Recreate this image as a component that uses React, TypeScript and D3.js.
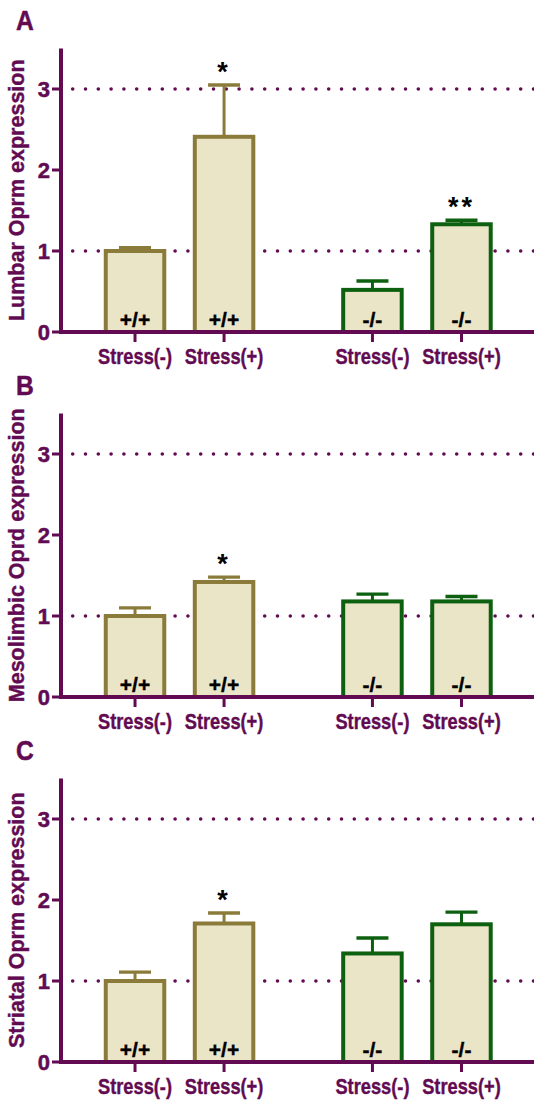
import React, { useEffect, useRef } from 'react'
import * as d3 from 'd3'

// groups / conditions
const genotypes = ['+/+', '-/-']
const conditions = ['Stress(-)', 'Stress(+)']
const panelLetters = ['A', 'B', 'C']
const yTitles = ['Lumbar Oprm expression', 'Mesolimbic Oprd expression', 'Striatal Oprm expression']
const yTicks = [0, 1, 2, 3]
const refLines = [1, 3]

// means in order: +/+ S(-), +/+ S(+), -/- S(-), -/- S(+)
const lumbarMeans = [1.0, 2.41, 0.52, 1.33]
const lumbarSem = [0.04, 0.64, 0.11, 0.05]
const lumbarStars = ['', '*', '', '**']

const mesolimbicMeans = [1.0, 1.42, 1.18, 1.18]
const mesolimbicSem = [0.1, 0.06, 0.09, 0.06]
const mesolimbicStars = ['', '*', '', '']

const striatalMeans = [1.0, 1.71, 1.34, 1.70]
const striatalSem = [0.11, 0.13, 0.19, 0.15]
const striatalStars = ['', '*', '', '']

const panelMeans = [lumbarMeans, mesolimbicMeans, striatalMeans]
const panelSem = [lumbarSem, mesolimbicSem, striatalSem]
const panelStars = [lumbarStars, mesolimbicStars, striatalStars]

const purple = '#620b52'
const gold = '#8b7b3b'
const green = '#0d600f'
const fill = '#ebe5c8'
const font = '"Liberation Sans", Arial, sans-serif'

export default function App () {
  const ref = useRef<SVGSVGElement>(null)

  useEffect(() => {
    const W = 534
    const H = 1100
    const svg = d3.select(ref.current)
    svg.selectAll('*').remove()
    svg.attr('width', W).attr('height', H)

    const axisX = 61
    const zero0 = 332
    const plotH = 283.5
    const panelStep = 365

    const yScale = d3.scaleLinear().domain([0, 3.5]).range([0, -plotH])
    const xGroup = d3.scaleBand().domain(genotypes).range([90.5, 506]).paddingInner(0.25).paddingOuter(0)
    const xCond = d3.scaleBand().domain(conditions).range([0, xGroup.bandwidth()]).paddingInner(0.343).paddingOuter(0.343 / 2)

    const bars = genotypes.flatMap(g => conditions.map(c => ({ g, c })))

    panelLetters.forEach((letter, p) => {
      const zero = zero0 + p * panelStep
      const g = svg.append('g').attr('transform', `translate(0,${zero})`)

      // panel letter
      svg.append('text')
        .attr('transform', `translate(16,${30 + p * panelStep}) scale(0.88,1)`)
        .attr('font-family', font).attr('font-weight', 'bold').attr('font-size', 28)
        .attr('fill', purple).attr('stroke', purple).attr('stroke-width', 0.5)
        .text(letter)

      // dotted reference lines
      g.selectAll('.ref').data(refLines).enter().append('line')
        .attr('x1', 72.7).attr('x2', W + 10)
        .attr('y1', d => yScale(d)).attr('y2', d => yScale(d))
        .attr('stroke', purple).attr('stroke-width', 3.6)
        .attr('stroke-linecap', 'round').attr('stroke-dasharray', '0,12.8')

      // error bars
      const cx = (i: number) => (xGroup(bars[i].g) as number) + (xCond(bars[i].c) as number) + xCond.bandwidth() / 2
      const colorOf = (i: number) => bars[i].g === '+/+' ? gold : green
      const means = panelMeans[p]
      const sem = panelSem[p]

      bars.forEach((b, i) => {
        const top = yScale(means[i] + sem[i])
        g.append('line').attr('x1', cx(i)).attr('x2', cx(i))
          .attr('y1', yScale(means[i])).attr('y2', top)
          .attr('stroke', colorOf(i)).attr('stroke-width', 3)
        g.append('line').attr('x1', cx(i) - 16).attr('x2', cx(i) + 16)
          .attr('y1', top).attr('y2', top)
          .attr('stroke', colorOf(i)).attr('stroke-width', 3.4)
      })

      // bars
      g.selectAll('.bar').data(bars).enter().append('rect')
        .attr('x', (d, i) => cx(i) - xCond.bandwidth() / 2)
        .attr('width', xCond.bandwidth())
        .attr('y', (d, i) => yScale(means[i]))
        .attr('height', (d, i) => -yScale(means[i]))
        .attr('fill', fill)
        .attr('stroke', (d, i) => colorOf(i))
        .attr('stroke-width', 4)

      // genotype labels inside bars
      g.selectAll('.geno').data(bars).enter().append('text')
        .attr('x', (d, i) => cx(i)).attr('y', -5)
        .attr('text-anchor', 'middle')
        .attr('font-family', font).attr('font-weight', 'bold').attr('font-size', 21)
        .attr('fill', '#000').attr('stroke', '#000').attr('stroke-width', 0.4)
        .text(d => d.g)

      // significance stars
      g.selectAll('.star').data(bars).enter().append('text')
        .attr('x', (d, i) => cx(i)).attr('y', (d, i) => yScale(means[i] + sem[i]) - 4)
        .attr('text-anchor', 'middle')
        .attr('font-family', font).attr('font-weight', 'bold').attr('font-size', 27)
        .attr('letter-spacing', 3)
        .attr('fill', '#000').text((d, i) => panelStars[p][i])

      // y axis
      g.append('line').attr('x1', axisX).attr('x2', axisX)
        .attr('y1', 0).attr('y2', -plotH)
        .attr('stroke', purple).attr('stroke-width', 4)
      g.selectAll('.ytick').data(yTicks).enter().append('line')
        .attr('x1', axisX - 9).attr('x2', axisX)
        .attr('y1', d => yScale(d)).attr('y2', d => yScale(d))
        .attr('stroke', purple).attr('stroke-width', 3)
      g.selectAll('.ylab').data(yTicks).enter().append('text')
        .attr('x', 50).attr('y', d => yScale(d) + 7.8)
        .attr('text-anchor', 'end')
        .attr('font-family', font).attr('font-weight', 'bold').attr('font-size', 22)
        .attr('fill', purple).attr('stroke', purple).attr('stroke-width', 0.5)
        .text(d => d)

      // x axis
      g.append('line').attr('x1', axisX - 2).attr('x2', W + 10)
        .attr('y1', 0).attr('y2', 0)
        .attr('stroke', purple).attr('stroke-width', 4)
      g.selectAll('.xtick').data(bars).enter().append('line')
        .attr('x1', (d, i) => cx(i)).attr('x2', (d, i) => cx(i))
        .attr('y1', 0).attr('y2', 10)
        .attr('stroke', purple).attr('stroke-width', 3)
      g.selectAll('.xlab').data(bars).enter().append('text')
        .attr('transform', (d, i) => `translate(${cx(i)},31.5) scale(0.83,1)`)
        .attr('text-anchor', 'middle')
        .attr('font-family', font).attr('font-weight', 'bold').attr('font-size', 22)
        .attr('fill', purple).attr('stroke', purple).attr('stroke-width', 0.4)
        .text(d => d.c)

      // y title
      g.append('text')
        .attr('transform', `translate(23.5,${-plotH / 2}) rotate(-90)`)
        .attr('text-anchor', 'middle')
        .attr('font-family', font).attr('font-weight', 'bold').attr('font-size', 21.5)
        .attr('fill', purple).attr('stroke', purple).attr('stroke-width', 0.4)
        .text(yTitles[p])
    })
  }, [])

  return (
    <svg ref={ref} style={{ position: 'absolute', left: 0, top: 0, display: 'block' }} />
  )
}
